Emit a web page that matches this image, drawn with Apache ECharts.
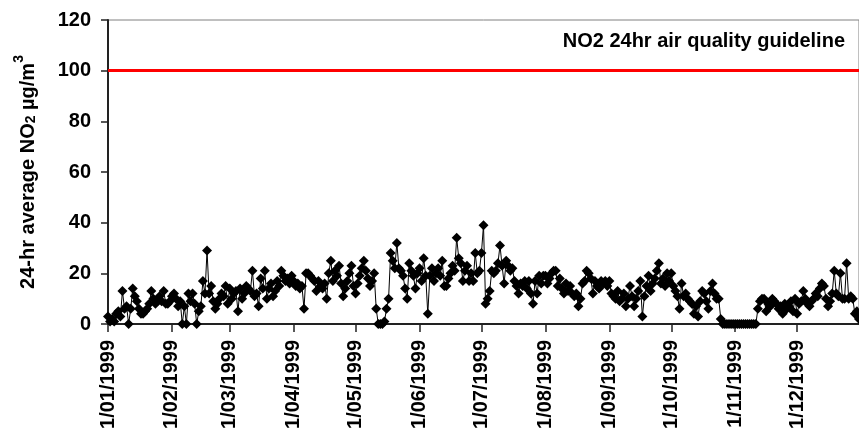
<!DOCTYPE html>
<html>
<head>
<meta charset="utf-8">
<script src="https://cdn.jsdelivr.net/npm/echarts@6/dist/echarts.min.js"></script>
<style>html,body{margin:0;padding:0;background:#fff}#c{width:859px;height:435px}</style>
</head>
<body>
<div id="c"></div>
<script>
// Month tick labels and lengths (1999)
const monthLabels = ["1/01/1999","1/02/1999","1/03/1999","1/04/1999","1/05/1999","1/06/1999","1/07/1999","1/08/1999","1/09/1999","1/10/1999","1/11/1999","1/12/1999"];
const monthLengths = [31,28,31,30,31,30,31,31,30,31,30,31];

// Daily 24-hr average NO2 (µg/m3), by month
const jan = [3,1,2,1,4,5,3,13,6,7,0,6,14,11,9,6,4,4,5,6,8,13,10,8,9,11,9,13,8,8,9];
const feb = [11,12,10,7,9,0,7,0,12,9,12,8,0,5,7,17,12,29,12,15,9,6,8,10,12,11,15,8];
const mar = [14,10,12,13,5,14,10,12,15,14,13,21,11,12,7,18,14,21,10,14,16,11,13,17,15,21,19,17,18,16,19];
const apr = [17,15,16,14,15,6,20,20,19,18,17,13,17,15,14,16,10,20,25,17,21,19,23,16,11,14,17,20,23,15];
const may = [12,16,19,22,25,21,18,15,17,20,6,0,0,0,1,6,10,28,25,22,32,22,21,19,14,10,24,21,19,14,20];
const jun = [22,17,26,19,4,19,22,17,20,22,19,25,15,15,18,20,23,21,34,26,24,17,21,23,17,20,17,28,20,21];
const jul = [28,39,8,10,13,21,20,21,24,31,23,16,25,23,21,22,17,15,12,16,15,17,14,17,12,8,17,12,19,16,19];
const aug = [19,16,18,20,21,21,15,18,14,12,16,13,15,12,11,12,7,10,16,17,21,20,18,12,17,15,14,17,16,17,15];
const sep = [17,12,11,10,13,9,10,12,7,10,15,11,7,10,13,17,3,11,15,19,13,16,18,21,24,16,18,15,20,17];
const oct = [20,15,13,11,6,16,11,12,10,9,8,4,7,3,9,13,12,9,6,13,16,12,10,10,2,0,0,0,0,0,0];
const nov = [0,0,0,0,0,0,0,0,0,0,0,6,9,10,10,5,8,7,10,9,8,6,7,4,8,6,7,9,5,10];
const dec = [4,8,9,13,10,8,7,9,10,12,11,14,16,15,10,7,9,12,21,12,11,20,10,10,24,10,11,10,4,5,2];

const guideline = 100;
const guidelineLabel = "NO2 24hr air quality guideline";

const months = [jan,feb,mar,apr,may,jun,jul,aug,sep,oct,nov,dec];
const values = [];
const categories = [];
const monthStartIdx = new Set();
months.forEach((m, mi) => {
  monthStartIdx.add(categories.length);
  for (let d = 0; d < monthLengths[mi]; d++) {
    const dd = String(d + 1);
    const mm = monthLabels[mi].split('/')[1];
    categories.push(dd + '/' + mm + '/1999');
    values.push(m[d]);
  }
});

const chart = echarts.init(document.getElementById('c'), null, {renderer: 'canvas'});
const FONT = 'Liberation Sans, Arial, sans-serif';
chart.setOption({
  animation: false,
  backgroundColor: '#fff',
  grid: {left: 108, right: 0, top: 20, bottom: 111, show: true, borderColor: '#808080', borderWidth: 1, backgroundColor: 'transparent'},
  xAxis: {
    type: 'category',
    data: categories,
    boundaryGap: false,
    axisLine: {lineStyle: {color: '#222', width: 2}},
    axisTick: {show: true, length: 8, lineStyle: {color: '#222', width: 1.5}, interval: (i) => monthStartIdx.has(i)},
    axisLabel: {
      interval: (i) => monthStartIdx.has(i),
      rotate: 90,
      margin: 16,
      color: '#000',
      fontFamily: FONT,
      fontWeight: 'bold',
      fontSize: 20
    },
    splitLine: {show: false}
  },
  yAxis: {
    type: 'value',
    min: 0, max: 120, interval: 20,
    axisLine: {show: true, lineStyle: {color: '#222', width: 2}},
    axisTick: {show: true, length: 7, lineStyle: {color: '#222', width: 1.5}},
    axisLabel: {color: '#000', fontFamily: FONT, fontWeight: 'bold', fontSize: 20, margin: 17},
    splitLine: {show: false},
    name: '{a|24-hr average NO}{s|2}{a| µg/m}{p|3}',
    nameLocation: 'middle',
    nameGap: 70,
    nameTextStyle: {
      rich: {
        a: {fontFamily: FONT, fontWeight: 'bold', fontSize: 20, color: '#000', lineHeight: 26, verticalAlign: 'bottom'},
        s: {fontFamily: FONT, fontWeight: 'bold', fontSize: 14, color: '#000', lineHeight: 26, verticalAlign: 'bottom'},
        p: {fontFamily: FONT, fontWeight: 'bold', fontSize: 14, color: '#000', lineHeight: 26, verticalAlign: 'top'}
      }
    }
  },
  graphic: [{
    type: 'text',
    right: 14,
    top: 31,
    style: {text: guidelineLabel, fill: '#000', font: 'bold 20px ' + FONT}
  }],
  series: [{
    type: 'line',
    data: values,
    symbol: 'diamond',
    symbolSize: 10,
    showAllSymbol: true,
    itemStyle: {color: '#000'},
    lineStyle: {color: '#000', width: 1},
    markLine: {
      silent: true,
      symbol: ['none', 'none'],
      label: {show: false},
      lineStyle: {color: '#ff0000', width: 3, type: 'solid'},
      data: [{yAxis: guideline}]
    }
  }]
});
</script>
</body>
</html>
